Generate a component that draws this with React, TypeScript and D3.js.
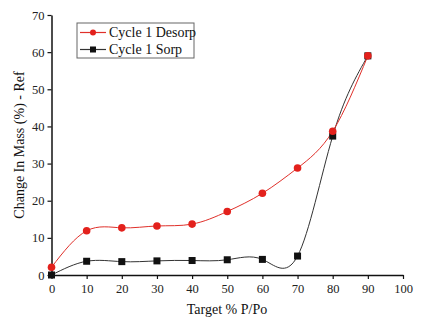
import React, { useRef, useEffect } from 'react';
import * as d3 from 'd3';

const xValues = [0, 10, 20, 30, 40, 50, 60, 70, 80, 90];
const desorp = [2.1, 11.9, 12.7, 13.2, 13.7, 17.1, 22.0, 28.8, 38.7, 59.0];
const sorp = [0, 3.7, 3.6, 3.8, 3.9, 4.1, 4.2, 5.1, 37.4, 59.0];
const xTicks = [0, 10, 20, 30, 40, 50, 60, 70, 80, 90, 100];
const yTicks = [0, 10, 20, 30, 40, 50, 60, 70];

const App = () => {
  const svgRef = useRef(null);

  useEffect(() => {
    const svg = d3.select(svgRef.current);
    svg.selectAll('*').remove();

    const x = d3.scaleLinear().domain([0, 100]).range([51.5, 403]);
    const y = d3.scaleLinear().domain([0, 70]).range([275, 15]);
    const font = "'Liberation Serif', 'Times New Roman', serif";

    /* Axes */
    const xAxis = svg
      .append('g')
      .attr('transform', `translate(0,${y(0)})`)
      .call(d3.axisBottom(x).tickValues(xTicks).tickSize(4).tickSizeOuter(0));
    const yAxis = svg
      .append('g')
      .attr('transform', `translate(${x(0)},0)`)
      .call(d3.axisLeft(y).tickValues(yTicks).tickSize(4).tickSizeOuter(0));

    [xAxis, yAxis].forEach(a => {
      a.select('.domain').attr('stroke', '#111').attr('stroke-width', 1.5);
      a.selectAll('.tick line').attr('stroke', '#111').attr('stroke-width', 1.2);
      a.selectAll('.tick text')
        .attr('font-family', font)
        .attr('font-size', 12.5)
        .attr('fill', '#222');
    });
    xAxis.selectAll('.tick text').attr('dy', '0.9em');

    /* Lines */
    const line = d3
      .line<number>()
      .x((d, i) => x(xValues[i]))
      .y(d => y(d))
      .curve(d3.curveNatural);

    svg
      .append('path')
      .datum(sorp)
      .attr('fill', 'none')
      .attr('stroke', '#333')
      .attr('stroke-width', 1)
      .attr('d', line);

    svg
      .append('path')
      .datum(desorp)
      .attr('fill', 'none')
      .attr('stroke', '#e0302a')
      .attr('stroke-width', 1)
      .attr('d', line);

    /* Markers */
    svg
      .selectAll('.sq')
      .data(sorp)
      .join('rect')
      .attr('class', 'sq')
      .attr('x', (d, i) => x(xValues[i]) - 3.5)
      .attr('y', d => y(d) - 3.5)
      .attr('width', 7)
      .attr('height', 7)
      .attr('fill', '#111');

    svg
      .selectAll('.dot')
      .data(desorp)
      .join('circle')
      .attr('class', 'dot')
      .attr('cx', (d, i) => x(xValues[i]))
      .attr('cy', d => y(d))
      .attr('r', 3.8)
      .attr('fill', '#e3211c');

    /* Legend */
    const legend = svg.append('g');
    legend
      .append('rect')
      .attr('x', 77)
      .attr('y', 23)
      .attr('width', 117)
      .attr('height', 35)
      .attr('fill', 'white')
      .attr('stroke', '#666')
      .attr('stroke-width', 1);
    const items = [
      { name: 'Cycle 1 Desorp', color: '#e0302a', marker: 'circle' },
      { name: 'Cycle 1 Sorp', color: '#333', marker: 'rect' }
    ];
    items.forEach((it, i) => {
      const cy = 32.5 + i * 17;
      legend
        .append('line')
        .attr('x1', 80)
        .attr('x2', 106)
        .attr('y1', cy)
        .attr('y2', cy)
        .attr('stroke', it.color)
        .attr('stroke-width', 1.2);
      if (it.marker === 'circle') {
        legend.append('circle').attr('cx', 93).attr('cy', cy).attr('r', 3).attr('fill', '#e3211c');
      } else {
        legend.append('rect').attr('x', 90).attr('y', cy - 3).attr('width', 6).attr('height', 6).attr('fill', '#111');
      }
      legend
        .append('text')
        .attr('x', 109)
        .attr('y', cy + 4.5)
        .attr('font-family', font)
        .attr('font-size', 14)
        .attr('fill', '#111')
        .text(it.name);
    });

    /* Axis titles */
    svg
      .append('text')
      .attr('x', 227)
      .attr('y', 314)
      .attr('text-anchor', 'middle')
      .attr('font-family', font)
      .attr('font-size', 14)
      .attr('fill', '#111')
      .text('Target % P/Po');

    svg
      .append('text')
      .attr('transform', `translate(24,145) rotate(-90)`)
      .attr('text-anchor', 'middle')
      .attr('font-family', font)
      .attr('font-size', 14)
      .attr('fill', '#111')
      .text('Change In Mass (%) - Ref');
  }, []);

  return (
    <svg
      ref={svgRef}
      width={426}
      height={324}
      style={{ position: 'absolute', left: 0, top: 0, background: 'white' }}
    />
  );
};

export default App;
